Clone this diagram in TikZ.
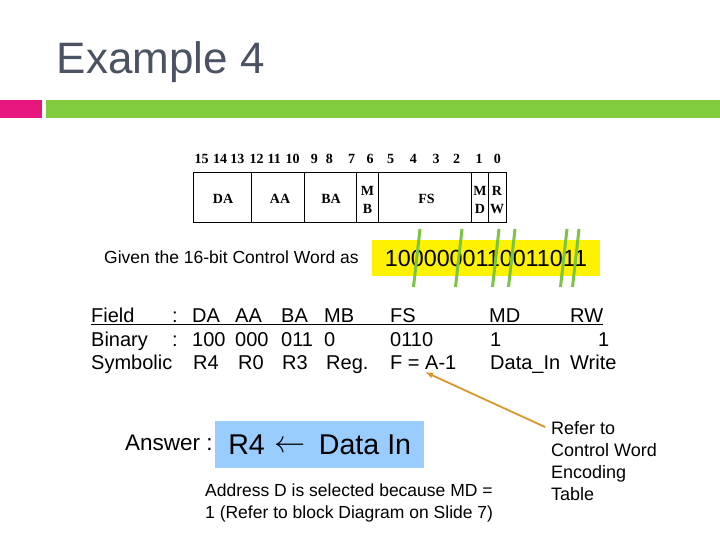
\documentclass[tikz,border=0pt]{standalone}
\usepackage{graphicx}
\usepackage{fontspec}
\setmainfont{Liberation Sans}
\newfontfamily\timesfont{Liberation Serif}
\usetikzlibrary{arrows.meta}

\definecolor{titlegray}{HTML}{4B5263}
\definecolor{barpink}{HTML}{E8177F}
\definecolor{bargreen}{HTML}{80CC3E}
\definecolor{markgreen}{HTML}{7CC443}
\definecolor{answerblue}{HTML}{99CCFF}
\definecolor{pointerorange}{HTML}{D9962B}

\newcommand{\fsz}[2]{\fontsize{#1}{#2}\selectfont}

\begin{document}
\begin{tikzpicture}[x=1pt, y=-1pt,
    txt/.style={inner sep=0pt, anchor=base west},
    bitnum/.style={inner sep=0pt, font={\timesfont\bfseries\fsz{14}{16}}},
    fieldlbl/.style={inner sep=0pt, align=center, font={\timesfont\bfseries\fsz{14}{18}}},
    rowtxt/.style={txt, font={\fsz{20}{24}}},
    splitmark/.style={markgreen, line width=3pt},
    pointer/.style={-{Latex[length=8pt,width=6pt]}, pointerorange, line width=1.8pt}]
    \useasboundingbox (0,0) rectangle (720,540);

    % Titel und Balken
    \node[txt, font={\fsz{44}{50}}, text=titlegray] (title) at (56.5,74) {Example 4};
    \fill[barpink] (0,100) rectangle (42,118);
    \fill[bargreen] (46,100) rectangle (720,118);

    % Bitnummern
    \foreach \b/\x in {15/201.7, 14/220, 13/237.3, 12/256.7, 11/274.3, 10/292.7,
                      9/314.3, 8/329.3, 7/351.7, 6/370, 5/390.7, 4/413.3,
                      3/436, 2/456.7, 1/479, 0/497.3}
        \node[bitnum] (b\b) at (\x,159) {\b};

    % Steuerwort-Format
    \draw[line width=1pt] (193,173) rectangle (506,223);
    \foreach \x in {251.7, 304.3, 356.7, 378.3, 471.7, 488.3}
        \draw[line width=1pt] (\x,173) -- (\x,223);
    \node[fieldlbl] (da) at (223,199) {DA};
    \node[fieldlbl] (aa) at (280,199) {AA};
    \node[fieldlbl] (ba) at (331,199) {BA};
    \node[fieldlbl] (mb) at (367.5,200) {M\\B};
    \node[fieldlbl] (fs) at (426.5,199) {FS};
    \node[fieldlbl] (md) at (480,200) {M\\D};
    \node[fieldlbl] (rw) at (497,200) {R\\W};

    % gegebenes Steuerwort
    \node[txt, font={\fsz{17.5}{21}}] (given) at (104,263) {Given the 16-bit Control Word as};
    \node[fill=yellow, minimum width=228pt, minimum height=36pt, inner sep=0pt,
          font={\fsz{23.3}{28}}] (cw) at (486,258) {1000000110011011};
    \foreach \x in {420, 462, 499, 515, 567, 579}
        \draw[splitmark] (\x,229) -- ++(-6.5,58);

    % Tabelle
    \node[rowtxt] (fld) at (91,322) {Field};
    \node[rowtxt] (fldc) at (172,322) {:};
    \node[rowtxt] (fda) at (192,322) {DA};
    \node[rowtxt] (faa) at (235,322) {AA};
    \node[rowtxt] (fba) at (281,322) {BA};
    \node[rowtxt] (fmb) at (324,322) {MB};
    \node[rowtxt] (ffs) at (390,322) {FS};
    \node[rowtxt] (fmd) at (489,322) {MD};
    \node[rowtxt] (frw) at (570,322) {RW};
    \draw[line width=1pt] ([yshift=-2pt]fld.base west) -- ([yshift=-2pt]frw.base east);

    \node[rowtxt] (bin) at (91,346) {Binary};
    \node[rowtxt] (binc) at (172,346) {:};
    \node[rowtxt] (bda) at (192,346) {100};
    \node[rowtxt] (baa) at (235,346) {000};
    \node[rowtxt] (bba) at (281,346) {011};
    \node[rowtxt] (bmb) at (324,346) {0};
    \node[rowtxt] (bfs) at (390,346) {0110};
    \node[rowtxt] (bmd) at (490,346) {1};
    \node[rowtxt] (brw) at (598,346) {1};

    \node[rowtxt] (sym) at (91,369) {Symbolic};
    \node[rowtxt] (sda) at (193,369) {R4};
    \node[rowtxt] (saa) at (238,369) {R0};
    \node[rowtxt] (sba) at (282,369) {R3};
    \node[rowtxt] (smb) at (326,369) {Reg.};
    \node[rowtxt] (sfs) at (390,369) {F = A-1};
    \node[rowtxt] (smd) at (490,369) {Data\_In};
    \node[rowtxt] (srw) at (570,369) {Write};

    % Antwort
    \node[txt, font={\fsz{22.5}{27}}] (anslbl) at (125,450) {Answer :};
    \node[fill=answerblue, anchor=west, inner sep=0pt, minimum width=209pt,
          minimum height=47pt, font={\fsz{28.6}{34}}] (ans) at (215,444.5)
          {R4\hspace{10pt}\raisebox{1.5pt}{\scalebox{1.25}{$\leftarrow$}}\hspace{13pt}Data In};
    \node[txt, align=left, font={\fsz{17.5}{22}}] (why) at (205,518)
          {Address D is selected because MD =\\1 (Refer to block Diagram on Slide 7)};

    % Hinweis
    \node[txt, align=left, font={\fsz{18}{22}}] (note) at (551,500.5)
          {Refer to\\Control Word\\Encoding\\Table};
    \coordinate (notetail) at (545,427);
    \coordinate (fsmark) at (425,372);
    \draw[pointer] (notetail) -- (fsmark);
\end{tikzpicture}
\end{document}
